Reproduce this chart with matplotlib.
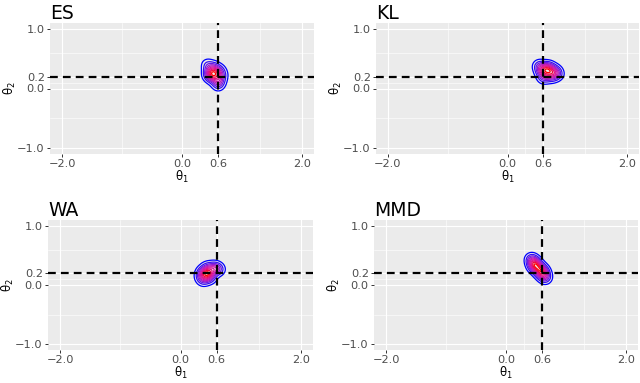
import numpy as np
import matplotlib
matplotlib.use("Agg")
import matplotlib.pyplot as plt
from matplotlib.colors import LinearSegmentedColormap

plt.rcParams['font.family'] = ['DejaVu Sans']
plt.rcParams['mathtext.default'] = 'regular'

# true parameter values (dashed reference lines)
theta1_true = 0.6
theta2_true = 0.2

x_ticks = [-2.0, 0.0, 0.6, 2.0]
y_ticks = [-1.0, 0.0, 0.2, 1.0]
x_minor = [-1.0, 0.3, 1.3]
y_minor = [-0.5, 0.1, 0.6]

methods = ["ES", "KL", "WA", "MMD"]

# posterior draws (theta1, theta2)
es_t1 = [0.42, 0.46, 0.50, 0.52, 0.55, 0.48, 0.58, 0.62, 0.66, 0.60, 0.44, 0.53, 0.57, 0.63, 0.50, 0.61]
es_t2 = [0.40, 0.28, 0.24, 0.22, 0.26, 0.32, 0.20, 0.15, 0.22, 0.06, 0.22, 0.36, 0.30, 0.30, 0.18, 0.10]
kl_t1 = [0.52, 0.58, 0.62, 0.66, 0.68, 0.72, 0.78, 0.84, 0.64, 0.60, 0.70, 0.74, 0.56, 0.80]
kl_t2 = [0.38, 0.35, 0.32, 0.33, 0.30, 0.28, 0.25, 0.24, 0.22, 0.18, 0.36, 0.20, 0.28, 0.30]
wa_t1 = [0.36, 0.40, 0.44, 0.46, 0.48, 0.42, 0.52, 0.56, 0.60, 0.38, 0.50, 0.64, 0.44, 0.34]
wa_t2 = [0.22, 0.20, 0.20, 0.18, 0.22, 0.14, 0.26, 0.30, 0.28, 0.08, 0.12, 0.26, 0.30, 0.14]
mmd_t1 = [0.42, 0.45, 0.48, 0.52, 0.55, 0.57, 0.60, 0.63, 0.66, 0.50, 0.62, 0.46]
mmd_t2 = [0.44, 0.40, 0.36, 0.30, 0.26, 0.24, 0.20, 0.16, 0.12, 0.34, 0.24, 0.32]

draws = {"ES": (es_t1, es_t2), "KL": (kl_t1, kl_t2),
         "WA": (wa_t1, wa_t2), "MMD": (mmd_t1, mmd_t2)}

# axes boxes in pixels: left, top, width, height (640x383 figure)
boxes = {"ES": (50, 23, 264, 131), "KL": (376, 23, 263, 131),
         "WA": (48, 220, 265, 130), "MMD": (374, 220, 264, 130)}

cmap = LinearSegmentedColormap.from_list(
    "bluered", ["#0000FF", "#7A1FE0", "#C81AB4", "#E0108A", "#FF0000"])


def kde2d(px, py, gx, gy, h=0.068):
    px = np.asarray(px)[:, None, None]
    py = np.asarray(py)[:, None, None]
    z = np.exp(-((gx - px) ** 2 + (gy - py) ** 2) / (2 * h * h)).sum(axis=0)
    return z / z.max()


fig = plt.figure(figsize=(6.4, 3.83), dpi=100)
W, H = 640, 383

gx, gy = np.meshgrid(np.linspace(-0.2, 1.4, 320), np.linspace(-0.5, 0.9, 300))

for m in methods:
    l, t, w, h = boxes[m]
    ax = fig.add_axes([l / W, 1 - (t + h) / H, w / W, h / H])
    ax.set_facecolor("#EBEBEB")
    ax.set_xlim(-2.2, 2.2)
    ax.set_ylim(-1.1, 1.1)
    ax.set_xticks(x_ticks)
    ax.set_xticklabels(["\u22122.0", "0.0", "0.6", "2.0"])
    ax.set_yticks(y_ticks)
    ax.set_yticklabels(["\u22121.0", "0.0", "0.2", "1.0"])
    ax.set_xticks(x_minor, minor=True)
    ax.set_yticks(y_minor, minor=True)
    ax.grid(True, which="major", color="white", linewidth=0.8)
    ax.grid(True, which="minor", color="white", linewidth=0.4)
    ax.set_axisbelow(True)
    ax.tick_params(which="major", length=2.5, width=0.7, color="#333333",
                   labelsize=8.2, labelcolor="#4D4D4D", pad=1.2)
    ax.tick_params(which="minor", length=0)
    for s in ax.spines.values():
        s.set_visible(False)

    t1, t2 = draws[m]
    z = kde2d(t1, t2, gx, gy)
    ax.contour(gx, gy, z, levels=np.linspace(0.07, 0.95, 10), cmap=cmap, linewidths=0.9)

    ax.axvline(theta1_true, color="black", linewidth=1.6, linestyle=(0, (3.5, 2.3)))
    ax.axhline(theta2_true, color="black", linewidth=1.6, linestyle=(0, (3.5, 2.3)))

    ax.set_xlabel(r"$\theta_1$", fontsize=8.5, labelpad=-0.5)
    ax.set_ylabel(r"$\theta_2$", fontsize=8.5, labelpad=-0.5)
    ax.set_title(m, loc="left", fontsize=13.5, pad=3)

fig.savefig("out.png", dpi=100)
